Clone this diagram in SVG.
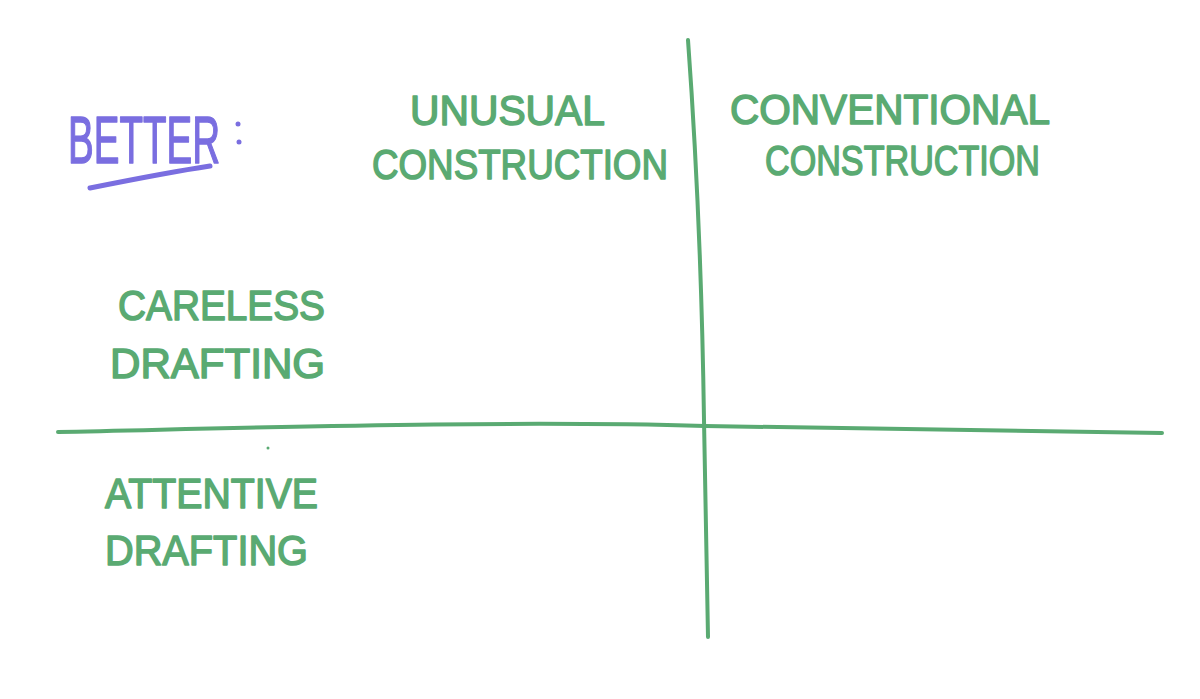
<svg xmlns="http://www.w3.org/2000/svg" width="1200" height="699" viewBox="0 0 1200 699">
<style>
.g{fill:#5aaa72;stroke:#5aaa72;stroke-width:1.5;stroke-linejoin:round;font-family:"Liberation Sans",Arial,sans-serif;font-size:42px;}
.p{fill:#7a6ee0;stroke:#7a6ee0;stroke-width:1.5;stroke-linejoin:round;font-family:"Liberation Sans",Arial,sans-serif;font-size:66px;}
.ln{fill:none;stroke:#5aaa72;stroke-width:4;stroke-linecap:round;}
</style>
<rect width="1200" height="699" fill="#ffffff"/>
<g id="connectors">
<path class="ln" d="M688,40 C696,150 702,280 704,420 C706,520 707,590 708,637"/>
<path class="ln" d="M58,432 C250,428 500,420 705,426 C900,430 1050,432 1162,433"/>
<circle cx="268" cy="448" r="1.5" fill="#5aaa72"/>
</g>
<g id="better">
<text class="p" x="68" y="163" textLength="152" lengthAdjust="spacingAndGlyphs">BETTER</text>
<circle cx="238" cy="124" r="2.5" fill="#7a6ee0"/>
<circle cx="239" cy="142" r="2.5" fill="#7a6ee0"/>
<path d="M90,188 C130,180 170,172 210,166" fill="none" stroke="#7a6ee0" stroke-width="5" stroke-linecap="round"/>
</g>
<g id="unusual">
<text class="g" x="410" y="125" textLength="195" lengthAdjust="spacingAndGlyphs">UNUSUAL</text>
<text class="g" x="372" y="179" textLength="296" lengthAdjust="spacingAndGlyphs">CONSTRUCTION</text>
</g>
<g id="conventional">
<text class="g" x="730" y="124" textLength="320" lengthAdjust="spacingAndGlyphs">CONVENTIONAL</text>
<text class="g" x="765" y="175" textLength="275" lengthAdjust="spacingAndGlyphs">CONSTRUCTION</text>
</g>
<g id="careless">
<text class="g" x="118" y="320" textLength="207" lengthAdjust="spacingAndGlyphs">CARELESS</text>
<text class="g" x="110" y="378" textLength="215" lengthAdjust="spacingAndGlyphs">DRAFTING</text>
</g>
<g id="attentive">
<text class="g" x="105" y="508" textLength="213" lengthAdjust="spacingAndGlyphs">ATTENTIVE</text>
<text class="g" x="105" y="565" textLength="203" lengthAdjust="spacingAndGlyphs">DRAFTING</text>
</g>
</svg>
